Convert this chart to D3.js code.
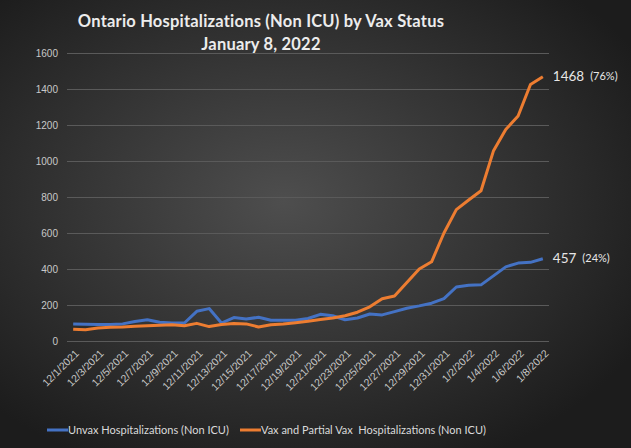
<!DOCTYPE html>
<html>
<head>
<meta charset="utf-8">
<script src="https://cdn.jsdelivr.net/npm/d3@7"></script>
<style>
  body { margin: 0; background: #222; }
  svg { display: block; font-family: Lato, "Open Sans", sans-serif; }
</style>
</head>
<body>
<div id="chart"></div>
<script>
var dates = ["12/1/2021","12/2/2021","12/3/2021","12/4/2021","12/5/2021","12/6/2021","12/7/2021","12/8/2021","12/9/2021","12/10/2021",
  "12/11/2021","12/12/2021","12/13/2021","12/14/2021","12/15/2021","12/16/2021","12/17/2021","12/18/2021","12/19/2021","12/20/2021",
  "12/21/2021","12/22/2021","12/23/2021","12/24/2021","12/25/2021","12/26/2021","12/27/2021","12/28/2021","12/29/2021","12/30/2021",
  "12/31/2021","1/1/2022","1/2/2022","1/3/2022","1/4/2022","1/5/2022","1/6/2022","1/7/2022","1/8/2022"];

var unvax = [95, 93, 91, 92, 95, 108, 118, 104, 100, 100,
  165, 180, 100, 130, 122, 132, 115, 115, 115, 125,
  148, 140, 118, 128, 150, 145, 163, 182, 195, 210,
  235, 300, 310, 312, 362, 412, 433, 437, 457];

var vax = [65, 62, 72, 77, 78, 82, 85, 88, 90, 85,
  98, 80, 92, 97, 95, 78, 90, 95, 102, 110,
  120, 128, 140, 160, 190, 235, 250, 325, 400, 440,
  600, 730, 783, 835, 1055, 1175, 1250, 1425, 1468];

var yTicks = [0, 200, 400, 600, 800, 1000, 1200, 1400, 1600];

var seriesNames = ["Unvax Hospitalizations (Non ICU)", "Vax and Partial Vax  Hospitalizations (Non ICU)"];
var seriesColors = ["#4472C4", "#ED7D31"];
var endLabels = [["457", "(24%)"], ["1468", "(76%)"]];

var width = 631, height = 448;
var plotLeft = 67, plotRight = 549, plotTop = 53, plotBottom = 341;

var svg = d3.select("#chart").append("svg").attr("width", width).attr("height", height);

// background gradient
var defs = svg.append("defs");
var grad = defs.append("radialGradient").attr("id", "bg")
  .attr("cx", "45%").attr("cy", "45%").attr("r", "65%");
grad.append("stop").attr("offset", "0%").attr("stop-color", "#4e4e4e");
grad.append("stop").attr("offset", "100%").attr("stop-color", "#1c1c1c");
svg.append("rect").attr("width", width).attr("height", height).attr("fill", "url(#bg)");

// scales
var xscale = d3.scalePoint().domain(dates).range([plotLeft, plotRight]).padding(0.5);
var yscale = d3.scaleLinear().domain([0, 1600]).range([plotBottom, plotTop]);

// y axis + grid
var yaxis = d3.axisLeft(yscale).tickValues(yTicks).tickFormat(d3.format("d"))
  .tickSize(-(plotRight - plotLeft)).tickPadding(9);
var gy = svg.append("g").attr("transform", "translate(" + plotLeft + ",0)").call(yaxis);
gy.select(".domain").remove();
gy.selectAll(".tick line").attr("stroke", "#5a5a5a").attr("stroke-width", 1);
gy.selectAll(".tick text").attr("fill", "#c8c8c8").style("font-size", "10px");

// x axis
var xaxis = d3.axisBottom(xscale)
  .tickValues(dates.filter(function (d, i) { return i % 2 === 0; }))
  .tickSize(0);
var gx = svg.append("g").attr("transform", "translate(0," + plotBottom + ")").call(xaxis);
gx.select(".domain").remove();
gx.selectAll(".tick text")
  .attr("fill", "#c8c8c8").style("font-size", "10.5px")
  .attr("text-anchor", "end")
  .attr("y", 0).attr("dy", 0)
  .attr("transform", "translate(6,13) rotate(-45)");

// lines
var allSeries = [unvax, vax];
var line = d3.line()
  .x(function (d, i) { return xscale(dates[i]); })
  .y(function (d) { return yscale(d); });

svg.selectAll("path.series").data(allSeries).enter().append("path")
  .attr("class", "series")
  .attr("d", line)
  .attr("fill", "none")
  .attr("stroke", function (d, i) { return seriesColors[i]; })
  .attr("stroke-width", 3)
  .attr("stroke-linejoin", "round");

// end labels
allSeries.forEach(function (s, i) {
  var last = s[s.length - 1];
  var x = xscale(dates[dates.length - 1]) + 10;
  var y = yscale(last);
  var t = svg.append("text").attr("x", x).attr("y", y).attr("dy", "0.35em")
    .attr("fill", "#e6e6e6").style("font-size", "13.5px");
  t.append("tspan").text(endLabels[i][0]);
  t.append("tspan").attr("dx", 6).style("font-size", "11px").attr("dy", "-0.1em").text(endLabels[i][1]);
});

// title
var title = svg.append("text").attr("x", 261).attr("text-anchor", "middle")
  .attr("fill", "#ececec").style("font-size", "16.5px").style("font-weight", "bold")
  .style("letter-spacing", "0.2px");
title.append("tspan").attr("x", 261).attr("y", 27).text("Ontario Hospitalizations (Non ICU) by Vax Status");
title.append("tspan").attr("x", 261).attr("y", 50).text("January 8, 2022");

// legend
var legendX = [47, 240];
var legend = svg.selectAll("g.legend").data(seriesNames).enter().append("g")
  .attr("class", "legend")
  .attr("transform", function (d, i) { return "translate(" + legendX[i] + ",430)"; });
legend.append("line").attr("x1", 0).attr("x2", 21).attr("y1", 0).attr("y2", 0)
  .attr("stroke", function (d, i) { return seriesColors[i]; }).attr("stroke-width", 3);
legend.append("text").attr("x", 21).attr("dy", "0.35em")
  .attr("fill", "#dadada").style("font-size", "11px")
  .style("white-space", "pre")
  .text(function (d) { return d; });
</script>
</body>
</html>
